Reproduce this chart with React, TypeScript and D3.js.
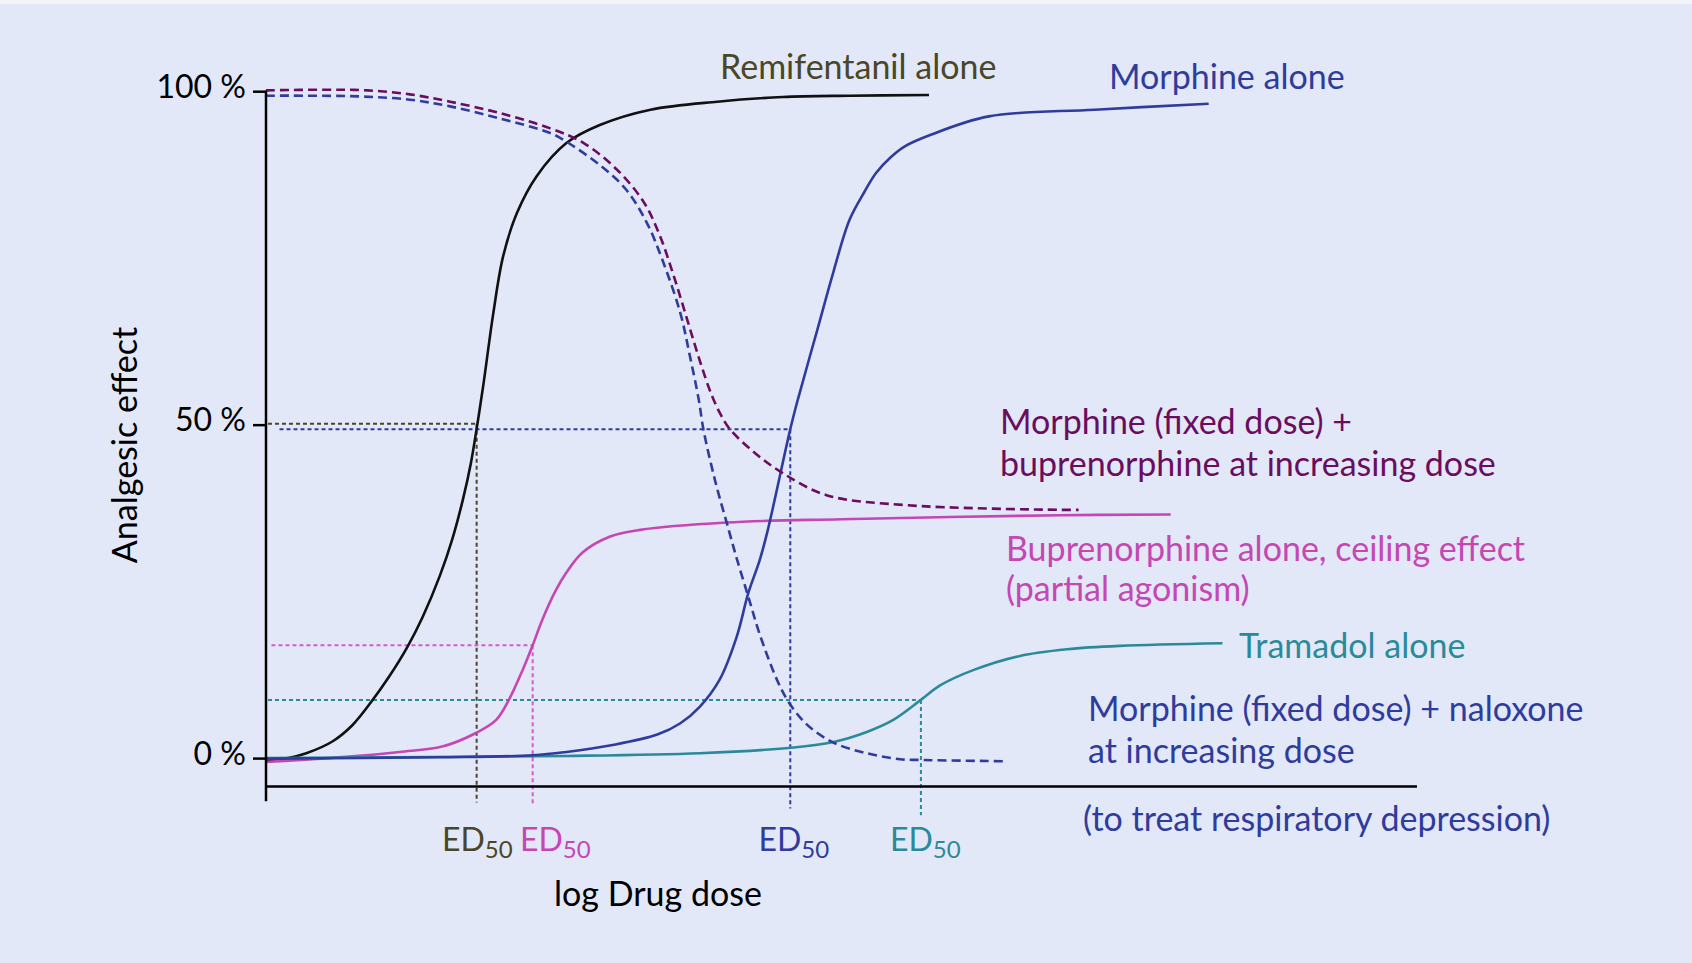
import React from "react";
import * as d3 from "d3";

// ---- data (x = log drug dose, arbitrary units 0..10; y = analgesic effect %) ----
const remiDose = [0, 0.17, 0.35, 0.58, 0.75, 0.91, 1.07, 1.23, 1.36, 1.51, 1.62, 1.71, 1.78, 1.835, 1.888, 1.975, 2.06, 2.18, 2.35, 2.61, 2.90, 3.34, 3.92, 4.49, 5.07, 5.76];
const remiEffect = [-0.2, 0, 0.8, 2.6, 5.0, 8.4, 12.3, 16.8, 21.2, 27.4, 33.0, 38.8, 44.3, 50.0, 56.0, 66.8, 75.3, 81.8, 87.3, 92.3, 95.0, 97.3, 98.5, 99.2, 99.4, 99.5];

const morphDose = [0, 1.5, 2.32, 2.61, 3.0, 3.4, 3.6, 3.77, 3.94, 4.09, 4.19, 4.29, 4.36, 4.555, 4.62, 4.79, 4.93, 5.07, 5.20, 5.30, 5.43, 5.55, 5.77, 6.28, 7.2, 8.19];
const morphEffect = [0, 0.2, 0.5, 1.0, 2.0, 3.6, 5.3, 7.8, 11.8, 18.3, 24.8, 29.8, 34.3, 49.4, 53.8, 64.3, 73.0, 80.8, 85.0, 87.8, 90.2, 91.8, 93.5, 96.3, 97.3, 98.2];

const buprDose = [0, 0.72, 1.16, 1.53, 1.82, 2.0, 2.11, 2.23, 2.317, 2.40, 2.52, 2.61, 2.75, 2.99, 3.25, 4.0, 5.0, 6.9, 7.86];
const buprEffect = [-0.5, 0.3, 1.0, 1.8, 3.8, 5.8, 8.8, 13.3, 17.0, 20.8, 25.3, 27.9, 30.9, 33.3, 34.3, 35.4, 35.9, 36.5, 36.6];

const tramDose = [0, 2.61, 3.77, 4.54, 4.93, 5.22, 5.45, 5.69, 5.86, 6.15, 6.55, 6.96, 7.42, 8.31];
const tramEffect = [0.1, 0.4, 0.8, 1.6, 2.5, 4.0, 5.8, 8.8, 11.0, 13.3, 15.4, 16.4, 16.9, 17.3];

const morphBuprDose = [0, 0.5, 0.88, 1.25, 1.60, 2.03, 2.47, 2.76, 3.05, 3.28, 3.42, 3.54, 3.66, 3.77, 3.87, 3.95, 4.03, 4.25, 4.49, 4.87, 5.57, 6.90, 7.06];
const morphBuprEffect = [100.2, 100.3, 100.2, 99.6, 98.5, 96.8, 94.5, 92.3, 88.3, 83.5, 78.5, 72.5, 65.8, 59.6, 54.6, 51.6, 49.4, 45.8, 42.8, 39.5, 38.0, 37.3, 37.3];

const morphNalDose = [0, 0.8, 1.25, 1.60, 2.03, 2.47, 2.61, 2.90, 3.13, 3.31, 3.45, 3.60, 3.68, 3.76, 3.80, 3.90, 4.02, 4.09, 4.19, 4.29, 4.44, 4.54, 4.70, 4.93, 5.22, 5.51, 5.68, 6.42];
const morphNalEffect = [99.4, 99.3, 98.8, 97.8, 96.0, 93.8, 92.5, 89.0, 85.3, 80.3, 74.5, 66.8, 60.6, 53.8, 49.4, 41.8, 34.3, 30.0, 24.3, 18.6, 11.8, 8.5, 5.1, 2.4, 0.8, -0.1, -0.2, -0.4];

// ED50 markers: remifentanil, buprenorphine, morphine, tramadol
const ed50Dose = [1.83, 2.317, 4.555, 5.69];
const ed50Effect = [50.2, 17.0, 49.4, 8.8];

const yTickValues = [0, 50, 100];
const yTickLabels = ["0 %", "50 %", "100 %"];

const C = {
  bg: "#e2e8f8",
  black: "#111111",
  olive: "#4a4628",
  blue: "#2f3c9d",
  purple: "#6b0d5f",
  magenta: "#c447b3",
  pinkDot: "#d65cc4",
  teal: "#2b8a9a",
};

const FONT = "Lato, 'Open Sans', sans-serif";
const FS = 34;

export default function App() {
  const W = 1692, H = 963;
  const x = d3.scaleLinear().domain([0, 10]).range([266, 1417]);
  const y = d3.scaleLinear().domain([0, 100]).range([758.6, 91.7]);

  const line = d3
    .line<[number, number]>()
    .x((d) => x(d[0]))
    .y((d) => y(d[1]))
    .curve(d3.curveCatmullRom.alpha(0.5));
  const zip = (a: number[], b: number[]) => a.map((v, i) => [v, b[i]] as [number, number]);

  const axisY = y(-4.2); // x-axis baseline below 0 %
  const axisBottom = y(-6.4);
  const edBottoms = [-6.6, -6.9, -7.5, -8.5];
  const edColors = [C.olive, C.pinkDot, C.blue, C.teal];
  const edHStart = [0.0, 0.03, 0.1, 0.0];
  const edLabelColors = [C.olive, C.magenta, C.blue, C.teal];
  const edLabelX = [442, 520, 758.5, 890];

  const curves = [
    { d: zip(remiDose, remiEffect), color: C.black, dash: null },
    { d: zip(buprDose, buprEffect), color: C.magenta, dash: null },
    { d: zip(tramDose, tramEffect), color: C.teal, dash: null },
    { d: zip(morphDose, morphEffect), color: C.blue, dash: null },
    { d: zip(morphBuprDose, morphBuprEffect), color: C.purple, dash: "9 5" },
    { d: zip(morphNalDose, morphNalEffect), color: C.blue, dash: "9 5" },
  ];

  const labels = [
    { t: "Remifentanil alone", x: 720, y: 79, c: C.olive },
    { t: "Morphine alone", x: 1109, y: 88.5, c: C.blue },
    { t: "Morphine (fixed dose) +", x: 1000, y: 434, c: C.purple },
    { t: "buprenorphine at increasing dose", x: 1000, y: 476, c: C.purple },
    { t: "Buprenorphine alone, ceiling effect", x: 1006, y: 561, c: C.magenta },
    { t: "(partial agonism)", x: 1006, y: 601, c: C.magenta },
    { t: "Tramadol alone", x: 1239, y: 658, c: C.teal },
    { t: "Morphine (fixed dose) + naloxone", x: 1088, y: 721, c: C.blue },
    { t: "at increasing dose", x: 1088, y: 763, c: C.blue },
    { t: "(to treat respiratory depression)", x: 1083, y: 831, c: C.blue },
  ];

  return (
    <svg
      width={W}
      height={H}
      style={{ position: "absolute", left: 0, top: 0, display: "block" }}
      fontFamily={FONT}
    >
      <rect x={0} y={0} width={W} height={H} fill={C.bg} />
      <rect x={0} y={0} width={W} height={4} fill="#f3f4f8" />

      {/* reference dotted lines */}
      {ed50Dose.map((dv, i) => (
        <g key={"ed" + i} stroke={edColors[i]} strokeWidth={2} strokeDasharray="4 3" fill="none">
          <line x1={x(edHStart[i]) + 2} x2={x(dv)} y1={y(ed50Effect[i])} y2={y(ed50Effect[i])} />
          <line x1={x(dv)} x2={x(dv)} y1={y(ed50Effect[i])} y2={y(edBottoms[i])} />
        </g>
      ))}

      {/* curves */}
      {curves.map((c, i) => (
        <path
          key={"c" + i}
          d={line(c.d) || ""}
          fill="none"
          stroke={c.color}
          strokeWidth={2.6}
          strokeDasharray={c.dash || undefined}
          strokeLinecap="butt"
        />
      ))}

      {/* axes */}
      <g stroke="#000" strokeWidth={2.5} fill="none">
        <line x1={x(0)} x2={x(0)} y1={y(100) - 1} y2={axisBottom} />
        <line x1={x(0)} x2={x(10)} y1={axisY} y2={axisY} />
        {yTickValues.map((v) => (
          <line key={v} x1={x(0) - 13} x2={x(0)} y1={y(v)} y2={y(v)} />
        ))}
      </g>
      {yTickValues.map((v, i) => (
        <text key={"tl" + v} x={246} y={y(v) + 6} textAnchor="end" fontSize={32} fill="#000">
          {yTickLabels[i]}
        </text>
      ))}

      <text
        transform={`translate(137, 445) rotate(-90)`}
        textAnchor="middle"
        fontSize={FS}
        fill="#000"
      >
        Analgesic effect
      </text>
      <text x={658} y={906} textAnchor="middle" fontSize={FS} fill="#000">
        log Drug dose
      </text>

      {ed50Dose.map((_, i) => (
        <text key={"el" + i} x={edLabelX[i]} y={851} fontSize={32} fill={edLabelColors[i]}>
          ED
          <tspan fontSize={24} dy={7}>50</tspan>
        </text>
      ))}

      {labels.map((l, i) => (
        <text key={"lb" + i} x={l.x} y={l.y} fontSize={FS} fill={l.c}>
          {l.t}
        </text>
      ))}
    </svg>
  );
}
